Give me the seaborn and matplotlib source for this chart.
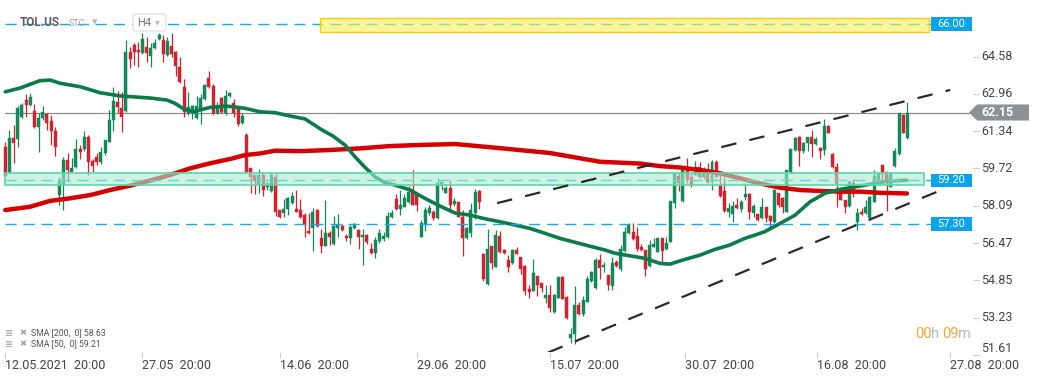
import numpy as np
import matplotlib.pyplot as plt
import matplotlib.transforms as mtransforms
from matplotlib.patches import Rectangle, Polygon, FancyBboxPatch
import seaborn as sns

# H4 candles of TOL.US (one entry per candle)
opens = [60.65, 59.56, 61.04, 61.00, 61.95, 62.69, 62.47, 62.21, 61.52, 61.91,
         62.08, 61.78, 61.34, 58.56, 59.00, 60.08, 59.56, 59.78, 60.56, 60.56,
         61.08, 60.04, 60.21, 60.00, 60.39, 60.87, 61.82, 62.61, 62.34, 62.21,
         64.78, 65.08, 64.87, 64.74, 65.00, 64.60, 64.95, 65.34, 65.30, 64.65,
         65.04, 64.78, 64.13, 63.26, 62.13, 62.21, 61.91, 62.30, 62.74, 63.65,
         63.30, 62.13, 62.78, 62.13, 62.87, 62.56, 62.34, 61.69, 61.17, 59.74,
         59.43, 59.00, 59.43, 58.91, 58.74, 59.34, 57.91, 57.78, 57.95, 58.21,
         57.95, 57.91, 57.69, 57.00, 57.13, 57.91, 56.69, 56.34, 56.91, 56.43,
         57.13, 57.21, 56.78, 56.69, 57.13, 57.04, 56.74, 56.82, 56.21, 56.04,
         56.56, 56.65, 56.74, 57.61, 58.39, 57.95, 58.04, 58.26, 58.69, 58.61,
         56.74, 57.26, 57.78, 57.82, 57.56, 59.00, 58.65, 58.87, 58.17, 58.26,
         57.61, 56.69, 56.91, 57.78, 58.74, 56.00, 54.69, 56.34, 55.43, 56.78,
         56.17, 55.74, 55.61, 56.17, 55.87, 55.47, 54.47, 54.39, 55.04, 54.74,
         54.08, 54.21, 53.48, 54.08, 55.00, 54.13, 52.34, 52.52, 53.78, 53.39,
         53.91, 54.82, 54.52, 55.74, 55.43, 55.08, 54.61, 55.65, 55.34, 56.13,
         56.91, 56.95, 56.78, 56.30, 56.17, 55.47, 56.30, 56.08, 56.69, 56.21,
         56.52, 58.21, 59.39, 58.30, 59.65, 59.34, 59.43, 59.78, 59.34, 59.52,
         59.13, 60.00, 59.00, 58.74, 57.82, 57.74, 58.13, 57.95, 58.48, 58.61,
         57.78, 57.74, 57.56, 58.04, 57.65, 57.39, 58.65, 58.43, 57.82, 59.56,
         60.52, 61.08, 60.47, 60.82, 61.08, 60.78, 60.61, 60.52, 61.56, 60.34,
         59.78, 58.69, 58.34, 58.08, 59.08, 57.39, 57.82, 57.78, 57.56, 58.26,
         59.13, 59.87, 59.56, 58.91, 59.82, 60.34, 62.04, 61.04]
highs = [60.87, 61.39, 61.61, 62.43, 62.56, 62.95, 63.00, 62.52, 62.13, 62.43,
         62.13, 62.04, 61.52, 59.34, 60.21, 60.39, 60.17, 61.00, 60.74, 61.34,
         61.17, 60.13, 60.39, 60.65, 60.95, 62.26, 63.26, 63.08, 63.04, 65.30,
         65.00, 65.17, 65.21, 65.61, 65.43, 65.17, 65.34, 65.61, 65.52, 65.43,
         65.61, 64.82, 64.56, 63.61, 63.04, 62.47, 62.87, 62.95, 63.39, 63.95,
         63.39, 62.61, 62.82, 63.13, 63.04, 62.74, 62.34, 62.13, 61.26, 59.74,
         59.43, 59.69, 59.52, 59.13, 59.52, 59.52, 57.91, 58.39, 58.48, 58.69,
         58.78, 58.39, 57.78, 57.78, 58.00, 57.95, 57.08, 58.34, 57.00, 57.65,
         57.74, 57.30, 56.87, 57.26, 57.34, 57.08, 57.08, 56.87, 56.48, 56.74,
         57.08, 56.95, 57.82, 57.91, 58.61, 58.78, 58.61, 58.95, 59.65, 58.65,
         57.47, 58.04, 58.13, 57.91, 59.30, 59.13, 58.95, 59.21, 58.43, 58.26,
         57.91, 57.17, 58.21, 58.82, 58.78, 56.04, 57.08, 56.34, 57.04, 57.00,
         56.21, 55.95, 56.21, 56.30, 55.87, 55.52, 54.65, 55.78, 55.04, 54.74,
         54.65, 54.65, 54.26, 55.00, 55.04, 54.17, 52.78, 54.61, 53.91, 54.17,
         55.04, 55.26, 55.82, 56.00, 55.65, 55.08, 55.87, 55.74, 56.39, 57.17,
         57.34, 57.34, 57.17, 56.43, 56.17, 56.61, 56.69, 56.69, 56.69, 56.74,
         58.30, 59.52, 59.56, 59.78, 60.17, 59.52, 60.04, 60.00, 59.78, 59.95,
         60.08, 60.08, 59.43, 59.34, 58.21, 58.30, 58.43, 58.34, 59.08, 58.65,
         58.17, 57.74, 58.43, 58.04, 57.69, 58.82, 58.65, 58.48, 59.65, 60.56,
         61.08, 61.13, 60.87, 61.08, 61.39, 61.08, 60.65, 61.87, 61.61, 60.39,
         59.95, 58.74, 58.34, 59.21, 59.26, 58.00, 58.00, 58.34, 58.52, 59.65,
         59.52, 59.87, 59.56, 59.56, 60.61, 62.13, 62.08, 62.61]
lows = [59.34, 59.52, 59.95, 60.65, 61.91, 61.95, 62.43, 61.47, 60.43, 61.82,
        61.39, 60.74, 60.26, 58.13, 57.91, 59.13, 59.56, 59.74, 60.13, 60.47,
        59.43, 59.56, 59.87, 59.91, 60.30, 60.87, 61.34, 62.13, 61.30, 62.17,
        64.08, 64.21, 64.13, 64.69, 64.34, 64.13, 64.91, 65.30, 64.34, 64.60,
        64.56, 63.74, 63.43, 61.95, 62.04, 61.87, 61.87, 61.65, 62.69, 63.21,
        62.04, 62.08, 62.13, 62.04, 62.82, 61.95, 61.56, 61.65, 59.52, 58.65,
        58.61, 58.65, 58.52, 58.78, 58.69, 57.65, 57.56, 57.61, 57.69, 58.17,
        57.82, 57.56, 56.74, 56.87, 56.13, 57.17, 56.04, 56.34, 56.39, 56.39,
        56.74, 57.00, 56.56, 56.43, 57.08, 56.21, 55.52, 56.43, 56.00, 55.82,
        56.48, 56.56, 56.69, 57.56, 57.91, 57.69, 58.04, 58.21, 58.13, 57.87,
        56.74, 57.00, 57.69, 57.47, 57.52, 58.78, 58.65, 57.91, 58.08, 57.61,
        55.91, 56.65, 56.74, 57.52, 57.95, 54.82, 54.65, 55.34, 55.43, 56.04,
        56.00, 55.21, 55.56, 56.00, 55.13, 54.21, 54.08, 54.39, 54.17, 54.34,
        53.87, 53.48, 53.43, 54.08, 54.04, 53.17, 52.13, 52.08, 53.35, 53.30,
        53.91, 54.78, 54.47, 54.91, 55.21, 54.43, 54.43, 55.43, 55.26, 56.08,
        56.87, 56.61, 56.13, 56.13, 55.04, 55.43, 56.30, 56.08, 55.61, 56.17,
        56.52, 58.00, 58.74, 58.26, 59.08, 58.91, 59.43, 59.30, 59.26, 59.08,
        58.78, 59.34, 58.48, 57.82, 57.61, 57.39, 57.95, 57.82, 58.34, 57.52,
        57.61, 57.43, 57.52, 57.39, 57.17, 57.34, 58.04, 57.78, 57.82, 59.52,
        60.47, 59.82, 60.39, 60.47, 60.21, 60.74, 60.13, 60.30, 61.26, 59.74,
        58.04, 58.34, 57.78, 58.04, 58.48, 57.04, 57.69, 57.74, 57.52, 58.26,
        59.08, 59.08, 57.87, 58.91, 59.78, 60.30, 61.26, 61.00]
closes = [59.39, 61.04, 60.82, 62.34, 62.47, 62.47, 62.82, 61.52, 61.91, 62.17,
          61.69, 61.34, 60.65, 59.21, 60.08, 59.65, 59.74, 60.56, 60.43, 61.08,
          60.00, 59.82, 60.00, 60.43, 60.95, 61.82, 62.65, 62.39, 61.95, 64.78,
          64.47, 64.78, 64.78, 65.34, 64.74, 64.95, 65.17, 65.52, 64.69, 65.26,
          64.69, 64.17, 63.47, 62.17, 62.39, 62.43, 62.43, 62.78, 63.34, 63.26,
          62.13, 62.43, 62.17, 62.87, 63.00, 62.13, 61.65, 62.00, 59.56, 59.34,
          59.17, 59.43, 58.78, 59.08, 59.43, 57.82, 57.61, 57.95, 58.43, 58.52,
          57.82, 57.61, 57.26, 56.91, 57.82, 57.21, 56.34, 56.91, 56.74, 57.21,
          57.26, 57.04, 56.69, 57.17, 57.30, 56.74, 56.82, 56.52, 56.04, 56.61,
          56.91, 56.78, 57.65, 57.78, 57.95, 58.13, 58.43, 58.69, 58.13, 58.13,
          57.34, 57.91, 58.00, 57.56, 59.08, 59.13, 58.87, 58.13, 58.30, 57.61,
          56.69, 57.13, 57.91, 58.69, 58.26, 54.91, 56.21, 55.61, 56.82, 56.08,
          56.04, 55.43, 56.17, 56.00, 55.34, 54.39, 54.34, 55.17, 54.65, 54.52,
          54.21, 53.65, 54.21, 55.00, 54.04, 53.21, 52.52, 53.78, 53.39, 54.00,
          54.91, 55.21, 55.74, 55.39, 55.52, 54.65, 55.61, 55.47, 56.21, 56.95,
          57.26, 56.65, 56.21, 56.17, 55.34, 56.39, 56.43, 56.69, 56.13, 56.48,
          58.30, 59.52, 59.08, 59.69, 59.21, 59.00, 59.78, 59.34, 59.69, 59.13,
          60.00, 59.34, 58.52, 57.87, 58.00, 58.08, 58.00, 58.26, 58.61, 57.82,
          58.08, 57.47, 58.04, 57.56, 57.43, 58.78, 58.13, 58.04, 59.65, 60.56,
          61.04, 60.47, 60.82, 61.08, 60.78, 61.00, 60.47, 61.56, 61.26, 59.78,
          59.04, 58.34, 58.04, 59.13, 58.65, 57.78, 57.74, 58.04, 58.48, 59.39,
          59.52, 59.56, 59.08, 59.52, 60.47, 62.13, 61.26, 62.15]

# moving averages as drawn (candle index, value)
sma50_x = [0, 3.5, 8.3, 10.8, 13.2, 18.0, 22.8, 27.6, 34.8, 38.9, 40.8, 42.7, 45.2,
           46.8, 49.2, 52.8, 54.8, 57.7, 61.3, 64.9, 68.5, 72.1, 76.2, 78.8, 81.7,
           84.1, 86.5, 88.9, 91.3, 93.7, 97.4, 100.9, 104.6, 108.2, 111.8, 114.9,
           119.0, 122.6, 126.2, 129.8, 133.4, 137.0, 140.6, 144.3, 146.7, 150.3,
           153.9, 157.5, 159.9, 163.0, 167.1, 170.7, 174.3, 177.9, 180.3, 182.7,
           186.4, 190.0, 193.6, 197.2, 200.8, 204.4, 208.0, 211.6, 216.9]
sma50_y = [63.05, 63.21, 63.53, 63.56, 63.42, 63.27, 63.01, 62.87, 62.78, 62.69,
           62.55, 62.33, 62.18, 62.26, 62.37, 62.43, 62.40, 62.33, 62.18, 62.14,
           62.00, 61.87, 61.39, 61.13, 60.74, 60.23, 59.77, 59.36, 59.10, 59.00,
           58.78, 58.42, 58.08, 57.78, 57.69, 57.55, 57.40, 57.26, 57.11, 56.90,
           56.68, 56.51, 56.34, 56.17, 56.03, 55.92, 55.81, 55.59, 55.56, 55.74,
           55.95, 56.20, 56.39, 56.68, 56.82, 56.97, 57.33, 57.69, 58.27, 58.64,
           58.81, 58.92, 59.03, 59.15, 59.21]
sma200_x = [0, 5.9, 10.8, 15.6, 20.4, 25.2, 30.0, 34.8, 39.6, 44.4, 49.2, 54.1,
            57.7, 61.3, 64.9, 70.9, 78.1, 85.3, 92.5, 99.8, 108.2, 119.0, 131.0,
            143.0, 152.7, 157.5, 162.3, 167.1, 171.9, 176.7, 181.5, 186.4, 191.2,
            196.0, 200.8, 205.6, 210.4, 216.9]
sma200_y = [57.91, 58.05, 58.31, 58.42, 58.56, 58.78, 58.97, 59.19, 59.43, 59.72,
            59.94, 60.13, 60.30, 60.37, 60.49, 60.47, 60.52, 60.59, 60.69, 60.74,
            60.78, 60.60, 60.39, 60.01, 59.93, 59.82, 59.76, 59.65, 59.51, 59.29,
            59.07, 58.88, 58.78, 58.74, 58.71, 58.71, 58.66, 58.63]

# drawn levels, zones and channel
levels = [66.00, 59.20, 57.30]
last_price = 62.15
zone_green = [58.98, 59.53]
zone_yellow = [65.66, 66.24]
upper_x = [118.3, 227.3]
upper_y = [58.21, 63.13]
lower_x = [130.6, 226.1]
lower_y = [51.72, 58.85]

price_ticks = [64.58, 62.96, 61.34, 59.72, 58.09, 56.47, 54.85, 53.23, 51.61]
date_labels = ["12.05.2021  20:00", "27.05  20:00", "14.06  20:00", "29.06  20:00",
               "15.07  20:00", "30.07  20:00", "16.08  20:00", "27.08  20:00"]
date_pos = [0, 33, 66, 99, 131, 163.5, 195.3, 227.3]

GREEN = "#13895a"
RED = "#d5202e"

sns.set_theme(style="white")
plt.rcParams['font.family'] = ['Roboto', 'DejaVu Sans']

W, H = 1041, 379
fig = plt.figure(figsize=(W / 100, H / 100), dpi=100)
ax = fig.add_axes([0, 27 / H, 965 / W, 352 / H])
pix = mtransforms.IdentityTransform()
px_y = mtransforms.blended_transform_factory(pix, ax.transData)

# candles
o = np.array(opens)
c = np.array(closes)
hi = np.array(highs)
lo = np.array(lows)
x = np.arange(len(c))
cols = np.where(c >= o, GREEN, RED)
ax.vlines(x, lo, hi, colors=cols, lw=0.9, zorder=2)
ax.bar(x, np.maximum(np.abs(c - o), 0.04), bottom=np.minimum(o, c), width=0.72,
       color=cols, edgecolor=cols, linewidth=0.3, zorder=2.1)

# SMA lines
sns.lineplot(x=sma200_x, y=sma200_y, ax=ax, color="#d60000", linewidth=3.2,
             sort=False, zorder=3)
sns.lineplot(x=sma50_x, y=sma50_y, ax=ax, color="#0b7b4b", linewidth=2.6,
             sort=False, zorder=3.1)

ax.set_xlim(-1.275, 230.86)
ax.set_ylim(51.74, 67.04)

# last price line
ax.plot([5, 969], [last_price, last_price], transform=px_y, color="#8c8c8c",
        lw=0.9, zorder=1.5, clip_on=False)

# horizontal levels (dashed blue) with labels
for lv in levels:
    ax.plot([5, 931], [lv, lv], transform=px_y, color="#1ea6ea", lw=1.0,
            linestyle=(0, (8, 5)), zorder=3.5)
    ax.add_patch(Rectangle((931, lv - 0.29), 41, 0.58, transform=px_y,
                           fc="#0aa3ec", ec="none", zorder=6, clip_on=False))
    ax.text(937, lv, f"{lv:.2f}", transform=px_y, color="white", fontsize=8,
            va="center", ha="left", zorder=7, clip_on=False)

# zones
ax.add_patch(Rectangle((5, zone_green[0]), 919, zone_green[1] - zone_green[0],
                       transform=px_y, fc=(0.667, 0.922, 0.816, 0.6),
                       ec="#5fd5a9", lw=1.2, zorder=4))
ax.add_patch(Rectangle((320, zone_yellow[0]), 609, zone_yellow[1] - zone_yellow[0],
                       transform=px_y, fc=(1.0, 0.93, 0.34, 0.6),
                       ec="#f0d000", lw=1.0, zorder=4))

# channel
ax.plot(upper_x, upper_y, color="#2a2a2a", lw=1.6, linestyle=(0, (7, 6)), zorder=5)
ax.plot(lower_x, lower_y, color="#2a2a2a", lw=1.6, linestyle=(0, (7, 6)), zorder=5)

# last price tag
tag = [(969, last_price), (977, last_price + 0.35), (1029, last_price + 0.35),
       (1029, last_price - 0.35), (977, last_price - 0.35)]
ax.add_patch(Polygon(tag, closed=True, transform=px_y, fc="#8a9297", ec="none",
                     zorder=6, clip_on=False))
ax.text(981, last_price, f"{last_price:.2f}", transform=px_y, color="white",
        fontsize=9, fontweight="bold", va="center", ha="left", zorder=7, clip_on=False)

# right price scale
y_lo = ax.get_ylim()[0]
for v in price_ticks:
    yv = max(v, y_lo + 0.15)
    ax.plot([973, 979], [v, v], transform=px_y, color="#d0d0d0", lw=0.8, clip_on=False)
    ax.text(981, yv, f"{v:.2f}", transform=px_y, color="#444444", fontsize=9,
            va="center", ha="left", clip_on=False)

# date axis
ax.set_yticks([])
ax.set_xticks(date_pos)
ax.set_xticklabels(date_labels, ha="left", fontsize=9, color="#444444")
ax.tick_params(axis="x", direction="out", length=4, width=0.8, color="#cccccc",
               pad=1, bottom=True)
ax.set_xlabel("")
ax.set_ylabel("")
for s in ax.spines.values():
    s.set_visible(False)

# header
fig.text(20, H - 23, "TOL.US", transform=pix, fontsize=8.5, fontweight="bold",
         color="#5c5c5c", va="center", ha="left", zorder=8)
fig.text(69, H - 23, "STC", transform=pix, fontsize=6.5, color="#9aa4ad",
         va="center", ha="left")
fig.text(92, H - 22, "\u25be", transform=pix, fontsize=8, color="#bbbbbb",
         va="center", ha="left", family=["DejaVu Sans"])
box = FancyBboxPatch((133, H - 31), 33, 17, boxstyle="round,pad=0,rounding_size=3",
                     transform=pix, fc="white", ec="#dddddd", lw=0.8, zorder=8)
fig.patches.append(box)
fig.text(137, H - 23, "H4", transform=pix, fontsize=8, color="#777777",
         va="center", ha="left", zorder=9)
fig.text(155, H - 22, "\u25be", transform=pix, fontsize=7, color="#bbbbbb",
         va="center", ha="left", zorder=9, family=["DejaVu Sans"])

# indicator legend
for yy, label in [(333, "SMA [200,  0] 58.63"), (344, "SMA [50,  0] 59.21")]:
    fig.text(5, H - yy, "\u2263", transform=pix, fontsize=7, color="#a0a0a0",
             va="center", ha="left", family=["DejaVu Sans"])
    fig.text(19, H - yy, "\u2716", transform=pix, fontsize=6, color="#a0a0a0",
             va="center", ha="left", family=["DejaVu Sans"])
    fig.text(31, H - yy, label, transform=pix, fontsize=6.3, color="#555555",
             va="center", ha="left")

# timer
for xx, s, col in [(915, "00", "#f7a23a"), (931, "h", "#b8b8b8"),
                   (942, "09", "#f7a23a"), (958, "m", "#b8b8b8")]:
    fig.text(xx, H - 334, s, transform=pix, fontsize=10.5, color=col,
             va="center", ha="left")

fig.savefig("out.png", dpi=100)
